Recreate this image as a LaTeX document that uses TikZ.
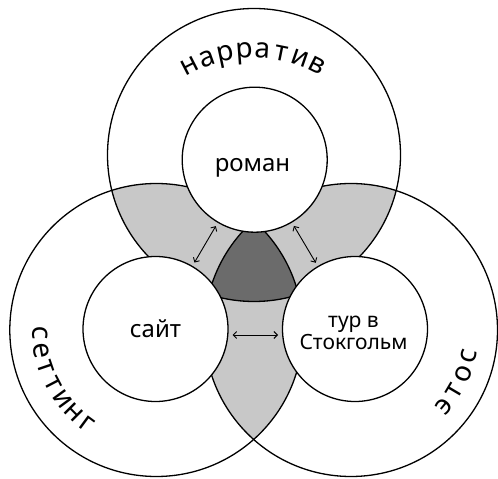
\documentclass[tikz,border=0pt]{standalone}
\usepackage{fontspec}
\setmainfont{Noto Sans}
\usetikzlibrary{arrows.meta}

\newcommand\arclbl{\fontsize{28}{32}\selectfont}
\definecolor{pairgray}{RGB}{200,200,200}
\definecolor{coregray}{RGB}{107,107,107}

\tikzset{
  ring/.style={line width=1.3pt},
  smallring/.style={circle, draw, fill=white, line width=1.3pt, minimum size=145pt, inner sep=0pt, outer sep=0pt},
  lbl/.style={font=\fontsize{24}{28}\selectfont},
  arcletter/.style={anchor=base, inner sep=0pt, font=\arclbl},
  link/.style={<->, >={Straight Barb[length=3.5pt,width=7pt]}, line width=0.9pt, shorten <=4.5pt, shorten >=4.5pt},
}

\begin{document}
\begin{tikzpicture}[x=1pt,y=1pt]
            \fill[white] (0,0) rectangle (498,479);
            \useasboundingbox (0,0) rectangle (498,479);

            % Centres of the three big circles
            \coordinate (narr) at (254,324);
            \coordinate (sett) at (156.3,149);
            \coordinate (etos) at (351,149);
            \coordinate (narrarc) at (254,288);

            % Pairwise overlaps
            \begin{scope}
              \clip (narr) circle (146.5);
              \fill[pairgray] (sett) circle (146.5);
              \fill[pairgray] (etos) circle (146.5);
            \end{scope}
            \begin{scope}
              \clip (sett) circle (146.5);
              \fill[pairgray] (etos) circle (146.5);
            \end{scope}

            % Overlap of all three
            \begin{scope}
              \clip (narr) circle (146.5);
              \clip (sett) circle (146.5);
              \fill[coregray] (etos) circle (146.5);
            \end{scope}

            % Big circles
            \draw[ring] (narr) circle (146.5);
            \draw[ring] (sett) circle (146.5);
            \draw[ring] (etos) circle (146.5);

            % Small circles
            \node[smallring] (roman) at (254.7,319.3) {};
            \node[smallring] (sajt) at (155.5,150) {};
            \node[smallring] (tur) at (355,150) {};

            \node[lbl, anchor=base] (romanlbl) at (252.5,307) {роман};
            \node[lbl, anchor=base] (sajtlbl) at (155.5,141) {сайт};
            \node[lbl, font=\fontsize{21}{22}\selectfont, align=center] (turlbl) at (353.5,146.5) {тур в\\Стокгольм};

            % Links between the small circles
            \draw[link] (sajt) -- (roman);
            \draw[link] (roman) -- (tur);
            \draw[link] ([yshift=-6pt]sajt.east) -- ([yshift=-6pt]tur.west);

            % Names along the big circles, letter by letter
            \foreach \ch [count=\i] in {н,а,р,р,а,т,и,в}{
              \pgfmathsetmacro\ang{117.2-(\i-1)*7.71}
              \node[arcletter, rotate=\ang-90] (narr-\i) at ([shift={(\ang:133)}]narrarc) {\ch};
            }
            \foreach \ch [count=\i] in {с,е,т,т,и,н,г}{
              \pgfmathsetmacro\ang{181.4+(\i-1)*8.7}
              \node[arcletter, rotate=\ang+90] (sett-\i) at ([shift={(\ang:124)}]sett) {\ch};
            }
            \foreach \ch [count=\i] in {э,т,о,с}{
              \pgfmathsetmacro\ang{-39.5+(\i-1)*9}
              \node[arcletter, rotate=\ang+90] (etos-\i) at ([shift={(\ang:128)}]etos) {\ch};
            }
\end{tikzpicture}
\end{document}
